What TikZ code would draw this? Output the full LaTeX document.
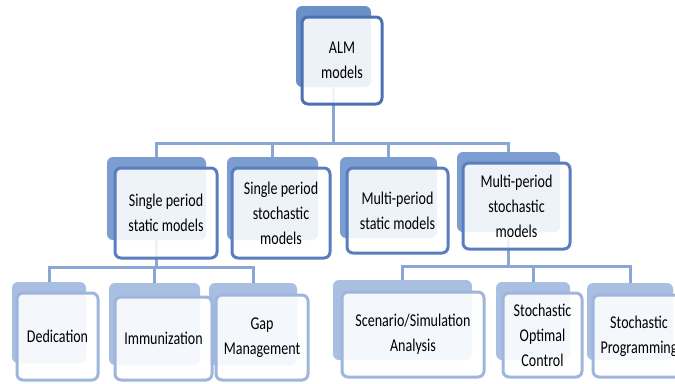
\documentclass[tikz,border=0pt]{standalone}
\usepackage{fontspec}
\setmainfont{Carlito}[FakeStretch=0.78]
\newdimen\px \px=0.75pt
\definecolor{backA}{HTML}{6B8FC8}
\definecolor{backB}{HTML}{7B9DD0}
\definecolor{backC}{HTML}{A8BFE1}
\definecolor{lineA}{HTML}{4C70AF}
\definecolor{lineB}{HTML}{5A7DBD}
\definecolor{lineC}{HTML}{9FB6DC}
\definecolor{connC}{HTML}{8AA6D3}
\begin{document}
\begin{tikzpicture}[x=1\px,y=-1\px,
    back/.style={rounded corners=6\px,inner sep=0pt},
    front/.style={rounded corners=6\px,inner sep=0pt,line width=3\px,fill=white,
      fill opacity=0.88,text opacity=1,align=center,
      font=\fontsize{13.5}{18.75}\selectfont},
    conn/.style={connC,line width=3\px}]
    \useasboundingbox (0,0) rectangle (675,383);
    % back boxes
    \node[back,fill=backA,minimum width=75\px,minimum height=81\px] (almb) at (333.5,46.5) {};
    \node[back,fill=backB,minimum width=99\px,minimum height=83\px] (spsb) at (156.5,198.5) {};
    \node[back,fill=backB,minimum width=91\px,minimum height=83\px] (spstb) at (272.5,198.5) {};
    \node[back,fill=backB,minimum width=97\px,minimum height=81\px] (mpsb) at (388.5,197.5) {};
    \node[back,fill=backB,minimum width=103\px,minimum height=80\px] (mpstb) at (508.5,192) {};
    \node[back,fill=backC,minimum width=74\px,minimum height=81\px] (dedb) at (49,322.5) {};
    \node[back,fill=backC,minimum width=91\px,minimum height=82\px] (immb) at (154.5,324) {};
    \node[back,fill=backC,minimum width=88\px,minimum height=82\px] (gapb) at (253,324) {};
    \node[back,fill=backC,minimum width=139\px,minimum height=80\px] (scenb) at (402.5,320) {};
    \node[back,fill=backC,minimum width=74\px,minimum height=78\px] (socb) at (533,321) {};
    \node[back,fill=backC,minimum width=86\px,minimum height=77\px] (spb) at (630,321.5) {};
    % connectors
    \draw[conn] (almb.south) -- ++(0,56) -| (spsb.north);
    \draw[conn] (almb.south) -- ++(0,56) -| (spstb.north);
    \draw[conn] (almb.south) -- ++(0,56) -| (mpsb.north);
    \draw[conn] (almb.south) -- ++(0,56) -| (mpstb.north);
    \draw[conn] (spsb.south) -- ++(0,27) -| (dedb.north);
    \draw[conn] (spsb.south) -- ++(0,27) -| (immb.north);
    \draw[conn] (spsb.south) -- ++(0,27) -| (gapb.north);
    \draw[conn] (mpstb.south) -- ++(0,34) -| (scenb.north);
    \draw[conn] (mpstb.south) -- ++(0,34) -| (socb.north);
    \draw[conn] (mpstb.south) -- ++(0,34) -| (spb.north);
    % front boxes
    \node[front,draw=lineA,minimum width=80\px,minimum height=87\px] (alm) at (342,60.5) {ALM\\models};
    \node[front,draw=lineB,minimum width=102\px,minimum height=90\px] (sps) at (166,213) {Single period\\static models};
    \node[front,draw=lineB,minimum width=98\px,minimum height=90\px] (spst) at (281,213) {Single period\\stochastic\\models};
    \node[front,draw=lineB,minimum width=101\px,minimum height=85\px] (mps) at (397.5,210.5) {Multi-period\\static models};
    \node[front,draw=lineB,minimum width=107\px,minimum height=86\px] (mpst) at (516.5,206) {Multi-period\\stochastic\\models};
    \node[front,draw=lineC,minimum width=81\px,minimum height=87\px] (ded) at (57.5,336.5) {Dedication};
    \node[front,draw=lineC,minimum width=97\px,minimum height=83\px] (imm) at (163.5,338.5) {Immunization};
    \node[front,draw=lineC,minimum width=92\px,minimum height=85\px] (gap) at (262,337.5) {Gap\\Management};
    \node[front,draw=lineC,minimum width=142\px,minimum height=85\px] (scen) at (413,334.5) {Scenario/Simulation\\Analysis};
    \node[front,draw=lineC,minimum width=79\px,minimum height=84\px] (soc) at (542.5,335) {Stochastic\\Optimal\\Control};
    \node[front,draw=lineC,minimum width=92\px,minimum height=82\px] (sp) at (639,336) {Stochastic\\Programming};
\end{tikzpicture}
\end{document}
